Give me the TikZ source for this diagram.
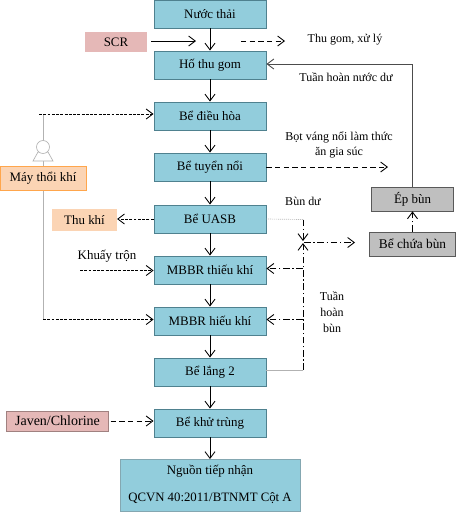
\documentclass[tikz,border=0pt]{standalone}
\usepackage{fontspec}
\setmainfont{Liberation Serif}
\usetikzlibrary{arrows.meta,calc}
\definecolor{tank}{HTML}{92CDDC}
\definecolor{tankb}{HTML}{4F818F}
\definecolor{pinkb}{HTML}{E5B8B7}
\definecolor{orangeb}{HTML}{FBD4B4}
\definecolor{greyb}{HTML}{BFBFBF}
\tikzset{
  x=0.75pt,y=-0.75pt,
  every node/.style={font=\fontsize{9.7pt}{11.8pt}\selectfont,inner sep=0pt,text=black},
  note/.style={font=\fontsize{9pt}{11.8pt}\selectfont},
  tank/.style={draw=tankb,fill=tank,line width=0.7pt,minimum width=84pt,minimum height=21pt},
  srcbox/.style={fill=pinkb,minimum height=15pt},
  gas/.style={fill=orangeb,minimum height=16.5pt},
  grey/.style={draw=black!65,fill=greyb,line width=0.6pt,minimum height=18pt},
  flow/.style={draw=black,line width=0.65pt,-{Straight Barb[length=5pt,width=7.5pt,line width=0.65pt]}},
  dflow/.style={flow,dash pattern=on 2.2pt off 1pt},
  dlong/.style={flow,dash pattern=on 4pt off 2.5pt},
  ddot/.style={flow,dash pattern=on 5pt off 2pt on 1pt off 2pt},
  thin grey/.style={draw=black!30,line width=0.5pt},
}
\begin{document}
\begin{tikzpicture}
\useasboundingbox[fill=white] (0,0) rectangle (456,512);
% main tanks
\node[tank] (a) at (210,14) {Nước thải};
\node[tank] (b) at (210,65) {Hố thu gom};
\node[tank] (c) at (210,116) {Bể điều hòa};
\node[tank] (d) at (210,167) {Bể tuyển nổi};
\node[tank] (e) at (210,219) {Bể UASB};
\node[tank] (f) at (210,270) {MBBR thiếu khí};
\node[tank] (g) at (210,321) {MBBR hiếu khí};
\node[tank] (h) at (210,372) {Bể lắng 2};
\node[tank] (i) at (210,423) {Bể khử trùng};
\node[tank,minimum width=135pt,minimum height=39pt,draw=tankb!70] (j) at (210,485.5) {};
\node (j1) at (210,471) {Nguồn tiếp nhận};
\node[font=\fontsize{9.6pt}{11.8pt}\selectfont] (j2) at (210,498) {QCVN 40:2011/BTNMT Cột A};
% side boxes
\node[srcbox,minimum width=46.5pt] (scr) at (116,42) {SCR};
\node[gas,minimum width=48.5pt] (thu) at (84.5,220) {Thu khí};
\node[srcbox,draw=pinkb!70!black,line width=0.6pt,minimum width=76pt,font=\fontsize{10.5pt}{12pt}\selectfont] (jav) at (57.5,421) {Javen/Chlorine};
\node[grey,minimum width=62pt] (ep) at (412.5,199) {Ép bùn};
\node[grey,minimum width=64pt,font=\fontsize{10pt}{12pt}\selectfont] (bc) at (412.5,244) {Bể chứa bùn};
% labels
\node[note] (l1) at (345,40) {Thu gom, xử lý};
\node[note] (l2) at (346,77) {Tuần hoàn nước dư};
\node[note,align=center] (l3) at (339,145) {Bọt váng nổi làm thức\\ăn gia súc};
\node[note] (l4) at (303,201) {Bùn dư};
\node (l5) at (107,256) {Khuấy trộn};
\node[note,align=center] (l6) at (332,312) {Tuần\\hoàn\\bùn};
% coordinates
\coordinate (scrO) at (151,41); \coordinate (scrE) at (196,41);
\coordinate (tgS) at (241,41); \coordinate (tgE) at (285,41);
\coordinate (airT) at (43,114); \coordinate (airL) at (39,114);
\coordinate (airB) at (43,319.5);
\coordinate (kt) at (80,270.5);
\coordinate (bot) at (388,167);
\coordinate (ec) at (412,64);
\coordinate (j1c) at (303,219.5);
\coordinate (j2c) at (303,241);
\coordinate (j3c) at (303,243);
\coordinate (j4c) at (303,370);
\coordinate (j5c) at (304,242.5);
\coordinate (j6c) at (355,242.5);
\coordinate (r1) at (303,268.5);
\coordinate (r2) at (303,319.5);
% main flow
\foreach \p/\q in {a/b,b/c,c/d,d/e,e/f,f/g,g/h,h/i,i/j}
  \draw[flow] (\p) -- (\q);
% air
\draw[thin grey] (airT) -- (airB);
\draw[thin grey,fill=white] (33,161) -- (38,152) -- (48,152) -- (53,161) -- cycle;
\draw[thin grey,fill=white] (43,147) circle (6.5);
\node[gas,draw=orange!70!white,line width=0.6pt,minimum width=64.5pt,minimum height=18pt] (blower) at (43,178) {Máy thổi khí};
\draw[dflow] (airL) -- (airL -| c.west);
\draw[dflow] (airB) -- (airB -| g.west);
\draw[dflow] (kt) -- (kt -| f.west);
% side inputs
\draw[flow] (scrO) -- (scrE);
\draw[dlong] (tgS) -- (tgE);
\draw[dlong] (d.east) -- (bot);
\draw[dflow] (e.west) -- (e.west -| thu.east);
\draw[dlong] ($(jav.east)+(2,0)$) -- (jav.east -| i.west);
% return
\draw[flow,line width=0.5pt,draw=black!70] (ep.north -| ec) -- (ec) -- (ec -| b.east);
\draw[ddot] (bc.north) -- (ep.south);
% sludge
\draw[densely dotted,draw=black!40,line width=0.5pt] (e.east) -- (j1c);
\draw[ddot] (j1c) -- (j2c);
\draw[ddot] (j4c) -- (j3c);
\draw[ddot] (j5c) -- (j6c);
\draw[ddot] (r1) -- (r1 -| f.east);
\draw[ddot] (r2) -- (r2 -| g.east);
\draw[thin grey] (j4c -| h.east) -- (j4c);
\end{tikzpicture}
\end{document}
